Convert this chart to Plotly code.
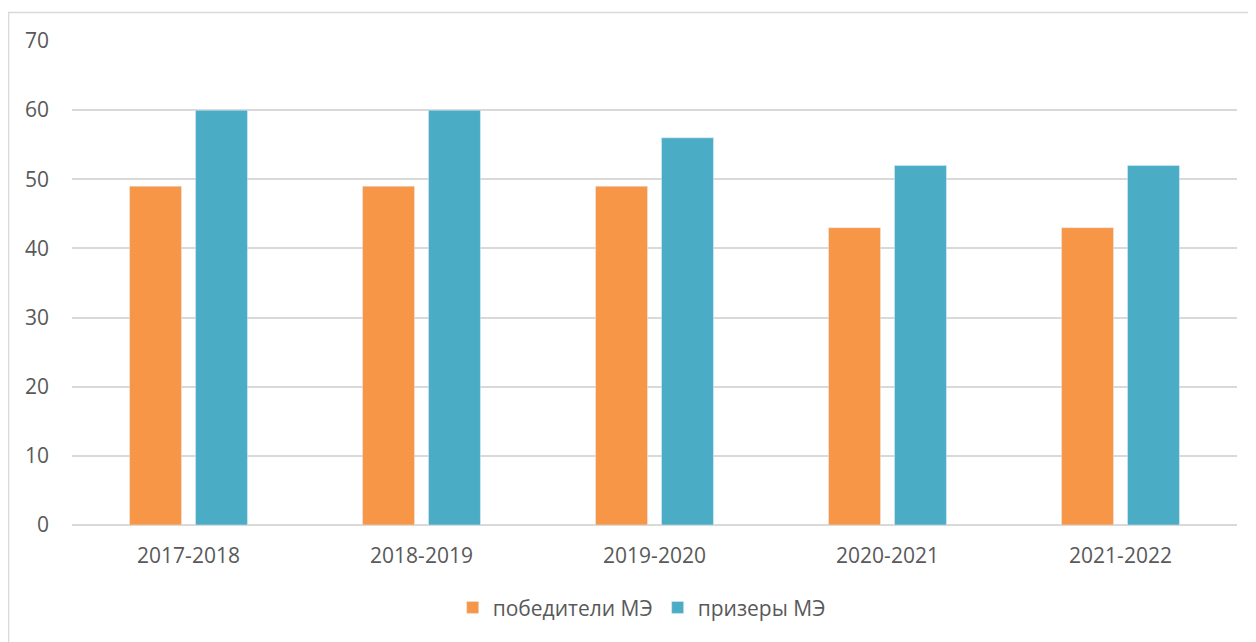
import plotly.graph_objects as go

categories = ["2017-2018", "2018-2019", "2019-2020", "2020-2021", "2021-2022"]
winners = [49, 49, 49, 43, 43]
prizers = [60, 60, 56, 52, 52]
names = ["победители МЭ", "призеры МЭ"]

font = "Open Sans, Liberation Sans, sans-serif"
txt = "#595959"

fig = go.Figure()
fig.add_trace(go.Bar(x=categories, y=winners, name=names[0], marker_color="#F79646",
                     width=0.223, offset=-0.253))
fig.add_trace(go.Bar(x=categories, y=prizers, name=names[1], marker_color="#4BACC6",
                     width=0.223, offset=0.030))

# page body has an 8px default margin; compensate in figure size/margins
fig.update_layout(
    width=1248, height=634,
    margin=dict(l=64, r=19, t=33, b=117),
    paper_bgcolor="white", plot_bgcolor="white",
    barmode="overlay",
    font=dict(family=font, size=21, color=txt),
    showlegend=True,
    legend=dict(orientation="h", x=0.489, xanchor="center", y=-0.171, yanchor="middle",
                font=dict(size=21, color=txt), itemwidth=30, traceorder="normal"),
    xaxis=dict(showgrid=False, showline=False, zeroline=False, ticks="",
               ticklabelstandoff=16, tickfont=dict(size=21, color=txt)),
    yaxis=dict(range=[0, 70], dtick=10, showgrid=True, gridcolor="#D9D9D9", gridwidth=1.5,
               zeroline=True, zerolinecolor="#D9D9D9", zerolinewidth=1.5, showline=False,
               ticks="", ticklabelstandoff=22, tickfont=dict(size=21, color=txt)),
    shapes=[dict(type="rect", xref="paper", yref="paper", x0=-0.0545, x1=1.05,
                 y0=-0.3, y1=1.0589, line=dict(color="#D9D9D9", width=1.5),
                 fillcolor="rgba(0,0,0,0)", layer="below")],
)

fig.write_html("out.html")
